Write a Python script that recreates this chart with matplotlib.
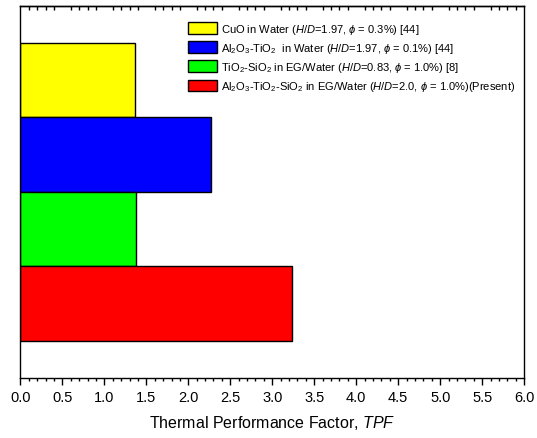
import numpy as np
import matplotlib
matplotlib.use("Agg")
import matplotlib.pyplot as plt
from matplotlib.ticker import MultipleLocator, NullLocator, FixedLocator

plt.rcParams["font.family"] = ["Liberation Sans", "DejaVu Sans"]
plt.rcParams["mathtext.fontset"] = "custom"
plt.rcParams["mathtext.rm"] = "Liberation Sans"
plt.rcParams["mathtext.it"] = "Liberation Sans:italic"

# TPF per nanofluid case, listed top to bottom
labels = [
    r"CuO in Water ($H/D$=1.97, $\phi$ = 0.3%) [44]",
    r"Al$_2$O$_3$-TiO$_2$  in Water ($H/D$=1.97, $\phi$ = 0.1%) [44]",
    r"TiO$_2$-SiO$_2$ in EG/Water ($H/D$=0.83, $\phi$ = 1.0%) [8]",
    r"Al$_2$O$_3$-TiO$_2$-SiO$_2$ in EG/Water ($H/D$=2.0, $\phi$ = 1.0%)(Present)",
]
tpf = [1.37, 2.27, 1.38, 3.23]
colors = ["#ffff00", "#0000ff", "#00ff00", "#ff0000"]

fig = plt.figure(figsize=(5.37, 4.39), dpi=100)
ax = fig.add_axes([0.038, 0.137, 0.938, 0.848])

ypos = np.arange(len(tpf), 0, -1)
for y, v, c, lab in zip(ypos, tpf, colors, labels):
    ax.barh(y, v, height=1.0, color=c, edgecolor="black", linewidth=1.0, label=lab)

ax.set_xlim(0, 6)
ax.set_ylim(0, 5)
ax.xaxis.set_major_locator(MultipleLocator(0.5))
ax.xaxis.set_minor_locator(MultipleLocator(0.1))
ax.xaxis.set_major_formatter(matplotlib.ticker.FormatStrFormatter("%.1f"))
ax.yaxis.set_major_locator(NullLocator())
ax.tick_params(axis="x", which="major", direction="out", length=5, width=1,
               labelsize=10.5, pad=4)
ax.tick_params(axis="x", which="minor", direction="out", length=2.5, width=1)
for s in ax.spines.values():
    s.set_linewidth(1.0)

# inward minor ticks along the top edge, skipping the 0.5 steps
minor_top = [i / 10 for i in range(61) if i % 5 != 0]
top = ax.secondary_xaxis("top")
top.xaxis.set_major_locator(NullLocator())
top.xaxis.set_minor_locator(FixedLocator(minor_top))
top.tick_params(which="minor", direction="in", length=3, width=1)
top.spines["top"].set_linewidth(1.0)

ax.set_xlabel(r"Thermal Performance Factor, $TPF$", fontsize=11.5, labelpad=6)

ax.legend(loc="upper left", bbox_to_anchor=(0.32, 0.975), frameon=False,
          fontsize=8.0, handlelength=2.6, handleheight=1.25, handletextpad=0.35,
          labelspacing=0.47, borderaxespad=0.2)

fig.savefig("out.png", dpi=100)
